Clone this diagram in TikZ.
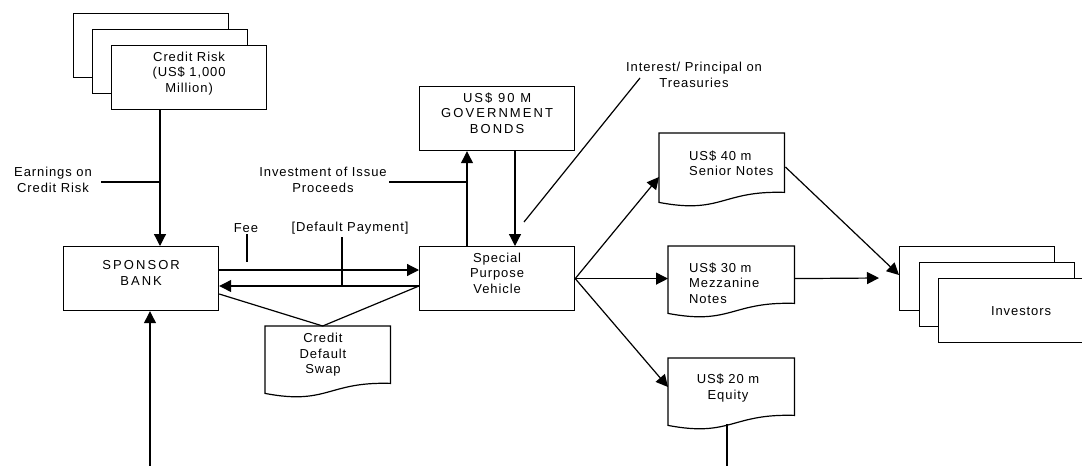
\documentclass[tikz,border=0pt]{standalone}
\usepackage{fontspec}
\setmainfont[LetterSpace=7]{Liberation Sans}
\newfontfamily\capsfont[LetterSpace=16]{Liberation Sans}
\usetikzlibrary{arrows.meta,calc}
\newcommand\docbody[1]{\draw[ln] (#1.north west) -- (#1.north east) -- (#1.south east)
  .. controls ($(#1.south)+(0,-2)$) and ($(#1.south)+(0,22)$) .. ($(#1.south west)+(0,10)$) -- cycle;}
\begin{document}
\begin{tikzpicture}[x=1pt,y=-1pt,
  every node/.style={font=\fontsize{13}{15.5}\selectfont, align=center},
  ln/.style={line width=1.2pt, black},
  arr/.style={ln, -{Triangle[length=12pt,width=12pt]}},
  box/.style={ln, draw, fill=white, minimum width=155pt, minimum height=64pt, inner sep=0pt, anchor=north west},
  capsbox/.style={box, font=\fontsize{13}{15.5}\capsfont},
  docnode/.style={minimum width=125pt, minimum height=58pt, inner sep=0pt, anchor=north west},
  lbl/.style={inner sep=1pt}
]
\useasboundingbox (0,0) rectangle (1082,466);

% Credit risk stack
\node[box] (cr1) at (73,13) {};
\node[box] (cr2) at (92,29) {};
\node[box, minimum height=64pt] (cr3) at (111,45) {Credit Risk\\(US\$ 1,000\\Million)\\[-4pt]};

% main boxes
\node[capsbox] (sb) at (63,246) {SPONSOR\\BANK\\[-4pt]};
\node[box] (spv) at (419,246) {Special\\Purpose\\Vehicle\\[-4pt]};
\node[capsbox] (gov) at (419,86) {US\$ 90 M\\GOVERNMENT\\BONDS\\[-4pt]};

% investors stack
\node[box] (in1) at (899,246) {};
\node[box] (in2) at (919,262) {};
\node[box, minimum width=165pt] (in3) at (938,278) {Investors};

% document shapes
\node[docnode, minimum width=125pt, minimum height=59pt] (sen) at (659,133) {};
\node[docnode, minimum width=126pt, minimum height=57pt] (mez) at (668,246) {};
\node[docnode, minimum width=126pt, minimum height=57pt] (equ) at (668,358) {};
\node[docnode, minimum width=125pt, minimum height=57pt] (cds) at (265,326) {};
\docbody{sen}
\docbody{mez}
\docbody{equ}
\docbody{cds}
\node[lbl, anchor=west, align=left] (sent) at (688,163) {US\$ 40 m\\Senior Notes};
\node[lbl, anchor=west, align=left] (mezt) at (688,283) {US\$ 30 m\\Mezzanine\\Notes};
\node[lbl] (equt) at (728,388) {US\$ 20 m\\Equity};
\node[lbl] (cdst) at (323,355) {Credit\\Default\\Swap};

% labels
\node[lbl] (ern) at (53,180) {Earnings on\\Credit Risk};
\node[lbl] (inv) at (323,180) {Investment of Issue\\Proceeds};
\node[lbl] (fee) at (246,228) {Fee};
\node[lbl] (dp) at (350,228) {[Default Payment]};
\node[lbl] (int) at (694,75) {Interest/ Principal on\\Treasuries};

% leader coordinates
\coordinate (e1) at (101,182);
\coordinate (e2) at (160,182);
\coordinate (i1) at (389,182);
\coordinate (i2) at (467,182);
\coordinate (f1) at (247,234);
\coordinate (f2) at (247,262);
\coordinate (d1) at (342,237);
\coordinate (d2) at (342,286);
\coordinate (t1) at (640,78);
\coordinate (t2) at (524,222);
\coordinate (bot) at (150,466);
\coordinate (ebot) at (727,466);
\coordinate (invin) at (879,278);

% connectors
\draw[arr] ($(cr3.south west)+(49,0)$) -- ($(sb.north west)+(97,0)$);
\draw[ln] (e1) -- (e2);
\draw[arr] (bot) -- ($(sb.south west)+(87,0)$);
\draw[arr] ($(sb.north east)+(0,24)$) -- ($(spv.north west)+(0,24)$);
\draw[arr] ($(spv.north west)+(0,40)$) -- ($(sb.north east)+(0,40)$);
\draw[ln] ($(sb.north east)+(0,48)$) -- ($(cds.north)+(-5,0)$) -- ($(spv.north west)+(0,40)$);
\draw[ln] (f1) -- (f2);
\draw[ln] (d1) -- (d2);
\draw[ln] (i1) -- (i2);
\draw[arr] ($(spv.north west)+(48,0)$) -- ($(gov.south west)+(48,0)$);
\draw[arr] ($(gov.south west)+(96,0)$) -- ($(spv.north west)+(96,0)$);
\draw[ln] (t1) -- (t2);
\draw[arr] (spv.east) -- ($(sen.north west)+(0,44)$);
\draw[arr] (spv.east) -- (mez.west |- spv.east);
\draw[arr] (spv.east) -- ($(equ.north west)+(0,29)$);
\draw[arr] ($(sen.north east)+(1,34)$) -- ($(in1.north west)+(0,29)$);
\draw[arr] (mez.east |- spv.east) -- (invin);
\draw[ln] ($(equ.south west)+(59,9)$) -- (ebot);
\end{tikzpicture}
\end{document}
